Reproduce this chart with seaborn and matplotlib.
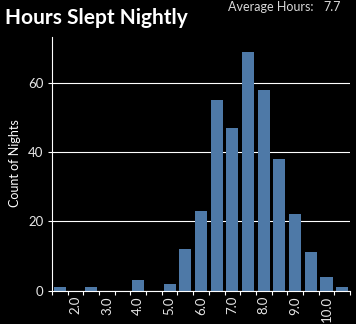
import matplotlib
matplotlib.use("Agg")
import matplotlib.pyplot as plt
import seaborn as sns
import pandas as pd

# ---- data ----
hour_bins = [1.5, 2.0, 2.5, 3.0, 3.5, 4.0, 4.5, 5.0, 5.5, 6.0,
             6.5, 7.0, 7.5, 8.0, 8.5, 9.0, 9.5, 10.0, 10.5]
night_counts = [1, 0, 1, 0, 0, 3, 0, 2, 12, 23,
                55, 47, 69, 58, 38, 22, 11, 4, 1]
y_ticks = [0, 20, 40, 60]
average_hours = 7.7
title_text = "Hours Slept Nightly"
avg_label = "Average Hours:"
y_label = "Count of Nights"

# ---- style ----
sns.set_theme(style="dark")
plt.rcParams['font.family'] = ['Lato', 'DejaVu Sans']

W, H = 356, 324
fig = plt.figure(figsize=(W / 100, H / 100), dpi=100, facecolor='black')
left, right, top, bottom = 52, 350, 37, 290.5
ax = fig.add_axes([left / W, 1 - bottom / H, (right - left) / W, (bottom - top) / H])
ax.set_facecolor('black')

bin_labels = [f"{b:.1f}" for b in hour_bins]
df = pd.DataFrame({'bin': bin_labels, 'count': night_counts})
sns.barplot(data=df, x='bin', y='count', order=bin_labels, color='#4e79a7',
            saturation=1, width=0.77, linewidth=0, edgecolor='none', ax=ax, zorder=2)

ax.set_xlim(-0.5, len(hour_bins) - 0.5)
ax.set_ylim(0, 73.3)

# y axis
ax.set_yticks(y_ticks)
ax.set_yticklabels([str(t) for t in y_ticks])
ax.yaxis.grid(True, color='white', linewidth=0.8, zorder=0)
ax.xaxis.grid(False)
ax.set_axisbelow(True)
ax.tick_params(axis='y', which='major', length=3, width=0.8, color='white',
               labelcolor='#e6e6e6', labelsize=9.5, pad=3, left=True)

# x axis: labels only for whole hours, tick marks at bin edges
ax.set_xticks(range(len(hour_bins)))
ax.set_xticklabels([lab if float(lab).is_integer() else "" for lab in bin_labels],
                   rotation=90)
ax.set_xticks([i - 0.5 for i in range(len(hour_bins) + 1)], minor=True)
ax.tick_params(axis='x', which='major', length=0, labelcolor='#e6e6e6',
               labelsize=9.5, pad=4)
ax.tick_params(axis='x', which='minor', length=3, width=0.8, color='white',
               bottom=True)

for s in ['top', 'right']:
    ax.spines[s].set_visible(False)
for s in ['left', 'bottom']:
    ax.spines[s].set_visible(True)
    ax.spines[s].set_color('white')
    ax.spines[s].set_linewidth(0.8)

ax.set_xlabel("")
ax.set_ylabel(y_label, color='white', fontsize=9)
ax.yaxis.set_label_coords((21 - left) / (right - left), (bottom - 163) / (bottom - top))

# titles
fig.text(5 / W, 1 - 18 / H, title_text, color='white', fontsize=15,
         fontweight='bold', ha='left', va='center')
fig.text(228 / W, 1 - 7 / H, avg_label, color='#d9d9d9', fontsize=9,
         ha='left', va='center')
fig.text(323 / W, 1 - 7 / H, f"{average_hours}", color='#d9d9d9', fontsize=9,
         ha='left', va='center')

fig.savefig("out.png", dpi=100, facecolor='black')
